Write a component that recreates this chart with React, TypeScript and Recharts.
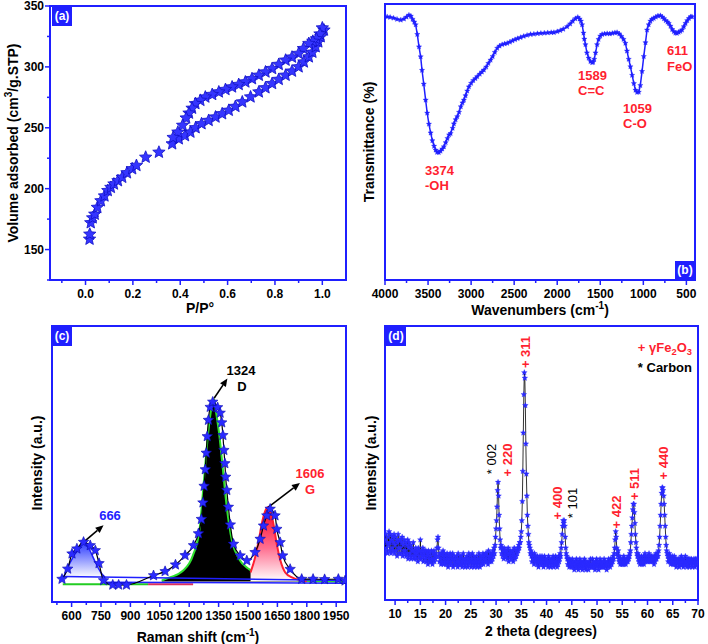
import React from "react";
import { ComposedChart, Line, Area, XAxis, YAxis, ReferenceArea, ReferenceLine } from "recharts";

const BLUE = "#1f1fff";
const RED = "#ff1f30";
const FONT = '"Liberation Sans", Arial, sans-serif';

// (a) N2 isotherm, [P/P0, volume]
const adsorption = [
  [0.017, 158.5], [0.018, 162.6], [0.022, 172], [0.03, 176], [0.039, 179], [0.05, 184.6], [0.065, 190],
  [0.08, 194], [0.094, 198.4], [0.107, 201], [0.12, 203.8], [0.137, 206.5], [0.155, 209.3], [0.175, 213],
  [0.197, 216.3], [0.215, 219], [0.254, 225.8], [0.31, 229.9], [0.366, 236.8], [0.394, 240.9], [0.42, 243.5],
  [0.443, 246.4], [0.465, 250], [0.49, 253.3], [0.52, 256], [0.549, 258.8], [0.577, 261.5], [0.605, 264.3],
  [0.633, 267.5], [0.662, 271.2], [0.697, 275.3], [0.732, 279.4], [0.76, 282.8], [0.788, 286.3], [0.816, 289.7],
  [0.845, 293.1], [0.872, 296.5], [0.9, 300], [0.922, 304], [0.943, 308.2], [0.958, 312], [0.972, 316.5],
  [0.983, 320.5], [0.993, 324.7], [1.007, 330.2],
];
const desorption = [
  [1.0, 332], [0.99, 327], [0.975, 323], [0.96, 321], [0.943, 319.2], [0.92, 315], [0.9, 311], [0.872, 308],
  [0.845, 305.5], [0.816, 302], [0.788, 298.6], [0.76, 295.8], [0.732, 293.1], [0.703, 290.3], [0.675, 287.6],
  [0.647, 285.5], [0.619, 283.5], [0.591, 281.4], [0.563, 279.4], [0.535, 277.3], [0.506, 275.2], [0.485, 272.5],
  [0.464, 269.8], [0.45, 266], [0.437, 262], [0.425, 258], [0.41, 252], [0.39, 246.4], [0.37, 242],
];
const betXTicks = [-0.1, 0, 0.1, 0.2, 0.3, 0.4, 0.5, 0.6, 0.7, 0.8, 0.9, 1.0];
const betXMajor = [0, 0.2, 0.4, 0.6, 0.8, 1.0];
const betYTicks = [125, 150, 175, 200, 225, 250, 275, 300, 325, 350];
const betYMajor = [150, 200, 250, 300, 350];

// (b) FTIR, [wavenumber, transmittance]
const ftir = [
  [3975, 95.4], [3940, 95.2], [3900, 94.9], [3860, 94.5], [3818, 94.2], [3780, 94.6], [3750, 95.3], [3722, 96],
  [3700, 95.6], [3680, 94.5], [3660, 93.5], [3644, 92.5], [3625, 89], [3605, 84.5], [3586, 80.9], [3570, 76],
  [3550, 71], [3528, 65.2], [3510, 60.5], [3490, 56.5], [3470, 53.3], [3450, 50.5], [3430, 48.5], [3412, 47.1],
  [3395, 46.3], [3375, 46.2], [3355, 46.7], [3335, 47.5], [3316, 48.3], [3295, 49.8], [3275, 51.3], [3255, 52.6],
  [3238, 53.1], [3215, 55], [3200, 56.6], [3180, 58.1], [3161, 59.2], [3140, 60.8], [3120, 62.8], [3100, 64.2],
  [3084, 65.2], [3065, 66.8], [3045, 68.5], [3026, 70], [3000, 71.3], [2975, 72.3], [2950, 73], [2929, 73.7],
  [2900, 74.6], [2875, 75.4], [2852, 76.1], [2825, 77.2], [2800, 78.5], [2774, 79.7], [2750, 81], [2725, 82.5],
  [2697, 84], [2670, 84.8], [2640, 85.3], [2610, 85.6], [2581, 85.8], [2550, 86.2], [2520, 86.7], [2490, 87.1],
  [2460, 87.5], [2426, 87.9], [2390, 88.3], [2350, 88.7], [2310, 89], [2271, 89.1], [2230, 89.3], [2190, 89.4],
  [2150, 89.5], [2110, 89.6], [2070, 89.7], [2039, 89.7], [2000, 90], [1965, 90.4], [1930, 90.9], [1885, 91.8],
  [1850, 92.8], [1820, 93.8], [1790, 94.7], [1761, 95.2], [1740, 94.6], [1725, 93.8], [1711, 92.5], [1695, 89.5],
  [1685, 87.3], [1672, 85.3], [1655, 82.3], [1635, 80.4], [1614, 79.2], [1595, 78.8], [1583, 78.9], [1570, 80],
  [1555, 82.3], [1537, 85.3], [1520, 87.2], [1500, 88.4], [1479, 89], [1450, 89.2], [1420, 89.3], [1390, 89.2],
  [1360, 89.4], [1330, 89.6], [1305, 89.7], [1280, 89.2], [1255, 88.3], [1230, 87.2], [1208, 85.8], [1190, 83],
  [1170, 80], [1150, 77.3], [1130, 74.2], [1110, 71.2], [1091, 68.8], [1072, 68], [1053, 68.1], [1035, 70.5],
  [1015, 75.6], [995, 81], [975, 86], [957, 90.6], [938, 92.5], [918, 93.8], [900, 94.5], [879, 94.8],
  [855, 95.3], [830, 95.7], [802, 95.8], [780, 95.3], [760, 94.7], [740, 94], [720, 93.5], [705, 93],
  [685, 92], [665, 90.8], [645, 90], [628, 89.5], [610, 89.4], [590, 89.8], [570, 90.1], [551, 90.6],
  [530, 91.8], [510, 93], [490, 94], [470, 94.8], [450, 95.4], [435, 95.4],
];
const ftirTicks = [4000, 3750, 3500, 3250, 3000, 2750, 2500, 2250, 2000, 1750, 1500, 1250, 1000, 750, 500];
const ftirMajor = [4000, 3500, 3000, 2500, 2000, 1500, 1000, 500];

// (c) Raman, measured points and fitted peaks
const raman = [
  [551, 8.3], [580, 12], [602, 17.5], [627, 19.3], [661, 21.7], [695, 20.5], [721, 18.7], [740, 14], [763, 7.8],
  [810, 6.2], [840, 6.2], [880, 6.2], [1018, 9.6], [1077, 11.1], [1130, 13.5], [1179, 16.9], [1222, 20.5],
  [1247, 24.8], [1262, 30], [1270, 36], [1276, 42], [1282, 48], [1287, 54], [1292, 60], [1298, 65.9],
  [1307, 70.6], [1320, 72.5], [1345, 70.5], [1358, 68.5], [1366, 65], [1372, 60.4], [1377, 55], [1382, 50.2],
  [1386, 45.3], [1392, 40.5], [1400, 34.4], [1410, 28], [1426, 21], [1460, 16.8], [1494, 15], [1536, 18],
  [1562, 22.8], [1579, 27.6], [1596, 31.3], [1613, 33.7], [1638, 31.3], [1647, 26.4], [1664, 21.6],
  [1677, 16.8], [1715, 11.9], [1774, 8.3], [1832, 8.3], [1891, 8.2], [1961, 8.3], [1995, 7.7],
];
const fit666 = [[559, 9], [580, 12.5], [604, 15.8], [638, 19.6], [661, 22.3], [688, 19.4], [722, 14.3], [750, 10.6], [772, 8.8]];
const fitD = [
  [1060, 7.8], [1101, 8.9], [1168, 11.3], [1219, 16.9], [1253, 26.4], [1269, 38.7], [1286, 53.2], [1303, 65.2],
  [1327, 73.4], [1337, 68.8], [1354, 60.3], [1370, 49.5], [1387, 37.3], [1404, 27.8], [1420, 21.6], [1455, 15.5],
  [1505, 11.9], [1589, 9.5], [1673, 8.3], [1758, 7.8], [1990, 7.4],
];
const fitG = [
  [1513, 10.7], [1539, 16.9], [1556, 22.8], [1572, 28.9], [1589, 33.2], [1604, 34.4], [1614, 33.2], [1631, 27.8],
  [1648, 20.5], [1665, 15.1], [1690, 10.7], [1724, 8.9], [1774, 7.8], [1800, 7.5],
];
const baseBlue1 = [[555, 9.2], [1300, 8.5], [2000, 7.8]];
const baseBlue2 = [[770, 7.2], [2000, 6.8]];
const baseGreen = [[555, 6.4], [990, 6.4]];
const baseRed = [[990, 6.4], [1220, 6.4]];
const ramanTicks = [525, 600, 675, 750, 825, 900, 975, 1050, 1125, 1200, 1275, 1350, 1425, 1500, 1575, 1650, 1725, 1800, 1875, 1950];
const ramanMajor = [600, 750, 900, 1050, 1200, 1350, 1500, 1650, 1800, 1950];

// (d) XRD counts, 8.0 to 70.0 deg in 0.1 deg steps
const xrdStart = 8;
const xrdStep = 0.1;
const xrdCounts = [
  22, 18, 24, 19, 21, 17, 23, 20, 25, 18,
  21, 24, 17, 22, 19, 23, 18, 21, 24, 17,
  20, 23, 18, 22, 16, 21, 24, 19, 17, 22,
  19, 22, 17, 21, 23, 16, 20, 18, 22, 17,
  18, 21, 16, 20, 17, 22, 15, 19, 21, 16,
  17, 20, 15, 19, 18, 16, 21, 15, 18, 17,
  16, 19, 15, 18, 17, 14, 19, 16, 18, 15,
  22, 17, 15, 18, 16, 19, 14, 17, 16, 18,
  15, 18, 14, 17, 16, 13, 18, 15, 17, 14,
  16, 14, 18, 15, 13, 17, 15, 18, 14, 16,
  15, 17, 16, 19, 22, 23, 19, 16, 14, 17,
  15, 13, 17, 14, 16, 18, 13, 15, 17, 14,
  16, 13, 15, 17, 14, 12, 16, 15, 13, 17,
  14, 16, 13, 15, 17, 12, 15, 14, 16, 13,
  15, 13, 16, 14, 12, 17, 14, 13, 15, 16,
  13, 16, 14, 12, 15, 17, 13, 15, 14, 12,
  15, 13, 16, 14, 12, 15, 17, 13, 14, 16,
  14, 12, 15, 17, 13, 14, 16, 12, 15, 14,
  13, 16, 14, 12, 15, 13, 17, 14, 12, 16,
  15, 13, 16, 14, 17, 13, 15, 16, 14, 17,
  15, 17, 14, 16, 13, 18, 15, 16, 14, 17,
  16, 14, 17, 15, 18, 16, 19, 17, 20, 23,
  26, 29, 34, 40, 43, 38, 31, 26, 22, 19,
  20, 17, 19, 16, 18, 15, 19, 17, 16, 18,
  16, 18, 15, 17, 19, 14, 17, 16, 18, 15,
  17, 15, 18, 16, 14, 17, 19, 16, 15, 18,
  16, 18, 17, 19, 18, 20, 19, 21, 21, 23,
  25, 29, 36, 47, 61, 75, 83, 81, 71, 57,
  46, 38, 31, 27, 24, 21, 20, 19, 17, 18,
  16, 14, 17, 15, 16, 13, 17, 15, 14, 16,
  15, 13, 16, 14, 12, 15, 14, 16, 13, 15,
  14, 16, 13, 15, 12, 14, 16, 13, 15, 14,
  13, 15, 14, 12, 16, 14, 13, 15, 12, 14,
  15, 13, 14, 16, 12, 15, 13, 14, 16, 13,
  14, 12, 15, 13, 16, 14, 15, 17, 16, 19,
  21, 24, 27, 29, 28, 29, 27, 23, 19, 17,
  16, 15, 13, 15, 14, 12, 15, 13, 14, 12,
  13, 15, 12, 14, 13, 11, 14, 13, 12, 15,
  12, 14, 13, 11, 14, 12, 15, 13, 12, 14,
  13, 11, 14, 12, 13, 15, 12, 14, 11, 13,
  14, 12, 13, 11, 14, 13, 12, 15, 13, 12,
  13, 15, 12, 14, 12, 13, 11, 14, 13, 15,
  12, 14, 13, 11, 14, 12, 15, 13, 12, 14,
  13, 12, 14, 12, 15, 13, 12, 14, 13, 11,
  14, 13, 12, 15, 13, 14, 12, 15, 14, 13,
  15, 14, 16, 15, 17, 19, 22, 25, 23, 19,
  17, 16, 18, 15, 14, 16, 13, 15, 14, 13,
  15, 13, 14, 16, 13, 15, 14, 13, 15, 14,
  15, 14, 16, 15, 16, 17, 18, 21, 24, 27,
  30, 33, 35, 35, 32, 28, 24, 21, 19, 17,
  16, 17, 15, 14, 16, 13, 15, 14, 16, 13,
  15, 14, 16, 13, 15, 17, 14, 16, 15, 14,
  16, 14, 15, 17, 14, 16, 15, 14, 16, 15,
  14, 16, 15, 13, 16, 14, 15, 17, 15, 16,
  17, 16, 18, 20, 23, 27, 31, 35, 39, 41,
  41, 40, 38, 35, 31, 27, 23, 20, 18, 17,
  16, 14, 15, 17, 14, 16, 13, 15, 14, 16,
  15, 13, 14, 16, 13, 15, 14, 12, 15, 14,
  13, 15, 14, 12, 15, 13, 14, 16, 13, 15,
  14, 12, 15, 13, 14, 16, 13, 14, 12, 15,
  13, 15, 14, 12, 15, 14, 13, 15, 14, 12,
  14, 13, 15, 14, 12, 15, 13, 14, 15, 13,
  14,
];
const xrdTicks = [10, 12.5, 15, 17.5, 20, 22.5, 25, 27.5, 30, 32.5, 35, 37.5, 40, 42.5, 45, 47.5, 50, 52.5, 55, 57.5, 60, 62.5, 65, 67.5, 70];
const xrdMajor = [10, 15, 20, 25, 30, 35, 40, 45, 50, 55, 60, 65, 70];

const pts = (arr: number[][]) => arr.map(([x, y]) => ({ x, y }));
const xrdData = xrdCounts.map((y, i) => ({ x: xrdStart + i * xrdStep, y }));

const starPts = (cx: number, cy: number, r: number) => {
  const p: string[] = [];
  for (let i = 0; i < 10; i++) {
    const rr = i % 2 === 0 ? r : r * 0.45;
    const a = -Math.PI / 2 + (i * Math.PI) / 5;
    p.push(`${cx + rr * Math.cos(a)},${cy + rr * Math.sin(a)}`);
  }
  return p.join(" ");
};

const starDot = (r: number, fill: string, stroke: string, sw = 0.8) => (p: any) => {
  if (p.cx == null || p.cy == null) return <g key={p.index} />;
  return <polygon key={p.index} points={starPts(p.cx, p.cy, r)} fill={fill} stroke={stroke} strokeWidth={sw} />;
};

const xTick = (majors: number[], fmt: (v: number) => string) => (props: any) => {
  const { x, y, payload } = props;
  const major = majors.includes(payload.value);
  return (
    <g>
      <line x1={x} x2={x} y1={y} y2={y + (major ? 5 : 3)} stroke={BLUE} strokeWidth={1.5} />
      {major && (
        <text x={x} y={y + 18} textAnchor="middle" fontFamily={FONT} fontWeight="bold" fontSize={12} fill="#000">
          {fmt(payload.value)}
        </text>
      )}
    </g>
  );
};

const yTick = (majors: number[]) => (props: any) => {
  const { x, y, payload } = props;
  const major = majors.includes(payload.value);
  return (
    <g>
      <line x1={x} x2={x - (major ? 5 : 3)} y1={y} y2={y} stroke={BLUE} strokeWidth={1.5} />
      {major && (
        <text x={x - 6} y={y + 4} textAnchor="end" fontFamily={FONT} fontWeight="bold" fontSize={12} fill="#000">
          {payload.value}
        </text>
      )}
    </g>
  );
};

const arrowShape = (p: any) => {
  const { x1, y1, x2, y2 } = p;
  const a = Math.atan2(y2 - y1, x2 - x1);
  const L = 8;
  const W = 3.5;
  const bx = x2 - L * Math.cos(a);
  const by = y2 - L * Math.sin(a);
  const head = `${x2},${y2} ${bx + W * Math.sin(a)},${by - W * Math.cos(a)} ${bx - W * Math.sin(a)},${by + W * Math.cos(a)}`;
  return (
    <g>
      <line x1={x1} y1={y1} x2={bx} y2={by} stroke="#000" strokeWidth={1.6} />
      <polygon points={head} fill="#000" />
    </g>
  );
};

function Txt(props: { x: number; y: number; children: React.ReactNode; color?: string; size?: number; anchor?: string; rotate?: boolean; weight?: string }) {
  const { x, y, children, color = "#000", size = 13, anchor = "middle", rotate = false, weight = "bold" } = props;
  const tx = anchor === "middle" ? "-50%" : anchor === "end" ? "-100%" : "0";
  return (
    <div
      style={{
        position: "absolute",
        left: x,
        top: y,
        transform: `translate(${tx}, -50%)${rotate ? " rotate(-90deg)" : ""}`,
        fontFamily: FONT,
        fontWeight: weight as any,
        fontSize: size,
        color,
        whiteSpace: "nowrap",
        lineHeight: 1,
      }}
    >
      {children}
    </div>
  );
}

const Tag = ({ x, y, t }: { x: number; y: number; t: string }) => (
  <div
    style={{
      position: "absolute", left: x, top: y, width: 20, height: 19, background: BLUE, color: "#fff",
      fontFamily: FONT, fontWeight: "bold", fontSize: 12, lineHeight: "19px", textAlign: "center",
    }}
  >
    {t}
  </div>
);

const sup = (s: string) => <sup style={{ fontSize: "0.72em", lineHeight: 0 }}>{s}</sup>;
const sub = (s: string) => <sub style={{ fontSize: "0.72em", lineHeight: 0 }}>{s}</sub>;

const frame = (x1: number, x2: number, y1: number, y2: number) => (
  <ReferenceArea x1={x1} x2={x2} y1={y1} y2={y2} fill="none" fillOpacity={0} stroke={BLUE} strokeWidth={2} ifOverflow="visible" />
);

function PanelA() {
  return (
    <ComposedChart width={354} height={322} margin={{ top: 6, right: 8, bottom: 0, left: 0 }}>
      <XAxis type="number" dataKey="x" domain={[-0.15, 1.1]} allowDataOverflow ticks={betXTicks} interval={0}
        tick={xTick(betXMajor, (v) => v.toFixed(1))} tickLine={false} tickSize={0} tickMargin={0} axisLine={false} height={42} />
      <YAxis type="number" domain={[125, 350]} allowDataOverflow ticks={betYTicks} interval={0}
        tick={yTick(betYMajor)} tickLine={false} tickSize={0} tickMargin={0} axisLine={false} width={50} />
      <Line data={pts(adsorption)} dataKey="y" stroke="none" dot={starDot(6.5, "#3535ff", "#1010c8")} activeDot={false} isAnimationActive={false} />
      <Line data={pts(desorption)} dataKey="y" stroke="none" dot={starDot(6.5, "#3535ff", "#1010c8")} activeDot={false} isAnimationActive={false} />
      {frame(-0.15, 1.1, 125, 350)}
    </ComposedChart>
  );
}

function PanelB() {
  return (
    <ComposedChart width={354} height={322} margin={{ top: 4, right: 13, bottom: 0, left: 31 }}>
      <XAxis type="number" dataKey="x" domain={[400, 4000]} reversed allowDataOverflow ticks={ftirTicks} interval={0}
        tick={xTick(ftirMajor, (v) => String(v))} tickLine={false} tickSize={0} tickMargin={0} axisLine={false} height={42} />
      <YAxis type="number" domain={[0, 100]} allowDataOverflow hide />
      <Line data={pts(ftir)} dataKey="y" stroke={BLUE} strokeWidth={1.5} dot={starDot(2.8, BLUE, BLUE, 0.3)} activeDot={false} isAnimationActive={false} />
      {frame(400, 4000, 0, 100)}
    </ComposedChart>
  );
}

function PanelC() {
  return (
    <ComposedChart width={354} height={322} margin={{ top: 4, right: 8, bottom: 0, left: 52 }}>
      <defs>
        <linearGradient id="g666" x1="0" y1="0" x2="0" y2="1">
          <stop offset="0%" stopColor="#1f2fff" />
          <stop offset="100%" stopColor="#ffffff" />
        </linearGradient>
        <linearGradient id="gG" x1="0" y1="0" x2="0" y2="1">
          <stop offset="0%" stopColor="#ff0020" />
          <stop offset="55%" stopColor="#ff6f90" />
          <stop offset="100%" stopColor="#ffffff" />
        </linearGradient>
      </defs>
      <XAxis type="number" dataKey="x" domain={[500, 2000]} allowDataOverflow ticks={ramanTicks} interval={0}
        tick={xTick(ramanMajor, (v) => String(v))} tickLine={false} tickSize={0} tickMargin={0} axisLine={false} height={42} />
      <YAxis type="number" domain={[0, 100]} allowDataOverflow hide />
      <Line data={pts(baseGreen)} dataKey="y" stroke="#22cc22" strokeWidth={2} dot={false} activeDot={false} isAnimationActive={false} />
      <Line data={pts(baseRed)} dataKey="y" stroke="#e0305a" strokeWidth={2} dot={false} activeDot={false} isAnimationActive={false} />
      <Line data={pts(baseBlue2)} dataKey="y" stroke={BLUE} strokeWidth={1.5} dot={false} activeDot={false} isAnimationActive={false} />
      <Line data={pts(baseBlue1)} dataKey="y" stroke={BLUE} strokeWidth={1.5} dot={false} activeDot={false} isAnimationActive={false} />
      <Area data={pts(fit666)} dataKey="y" type="monotone" baseValue={8.8} stroke={BLUE} strokeWidth={1.5} fill="url(#g666)" fillOpacity={1} dot={false} activeDot={false} isAnimationActive={false} />
      <Area data={pts(fitD)} dataKey="y" type="monotone" baseValue={7.4} stroke="#2ee02e" strokeWidth={2} fill="#000" fillOpacity={1} dot={false} activeDot={false} isAnimationActive={false} />
      <Area data={pts(fitG)} dataKey="y" type="monotone" baseValue={7.5} stroke={RED} strokeWidth={2} fill="url(#gG)" fillOpacity={1} dot={false} activeDot={false} isAnimationActive={false} />
      <Line data={pts(raman)} dataKey="y" type="monotone" stroke="#000" strokeWidth={1.2} dot={starDot(5.5, "#2a2aff", "#0a0ab0", 0.6)} activeDot={false} isAnimationActive={false} />
      <ReferenceLine segment={[{ x: 661, y: 21.7 }, { x: 763, y: 27.8 }]} shape={arrowShape} />
      <ReferenceLine segment={[{ x: 1327, y: 73.8 }, { x: 1395, y: 81 }]} shape={arrowShape} />
      <ReferenceLine segment={[{ x: 1604, y: 34.4 }, { x: 1765, y: 43.1 }]} shape={arrowShape} />
      {frame(500, 2000, 0, 100)}
    </ComposedChart>
  );
}

function PanelD() {
  return (
    <ComposedChart width={354} height={322} margin={{ top: 4, right: 10, bottom: 0, left: 31 }}>
      <XAxis type="number" dataKey="x" domain={[8, 70]} allowDataOverflow ticks={xrdTicks} interval={0}
        tick={xTick(xrdMajor, (v) => String(v))} tickLine={false} tickSize={0} tickMargin={0} axisLine={false} height={44} />
      <YAxis type="number" domain={[0, 100]} allowDataOverflow hide />
      <Line data={xrdData} dataKey="y" stroke="#000" strokeWidth={0.8} dot={starDot(3, "#2a2aff", "#2a2aff", 0.3)} activeDot={false} isAnimationActive={false} />
      {frame(8, 70, 0, 100)}
    </ComposedChart>
  );
}

export default function App() {
  return (
    <div style={{ position: "absolute", left: 0, top: 0, width: 708, height: 644, background: "#fff", overflow: "hidden" }}>
      <div style={{ position: "absolute", left: 0, top: 0 }}><PanelA /></div>
      <div style={{ position: "absolute", left: 354, top: 0 }}><PanelB /></div>
      <div style={{ position: "absolute", left: 0, top: 322 }}><PanelC /></div>
      <div style={{ position: "absolute", left: 354, top: 322 }}><PanelD /></div>

      <Tag x={52} y={7} t="(a)" />
      <Tag x={675} y={261} t="(b)" />
      <Tag x={52} y={327} t="(c)" />
      <Tag x={386} y={327} t="(d)" />

      {/* axis titles */}
      <Txt x={200} y={308} size={14}>P/P°</Txt>
      <Txt x={13} y={143} size={14} rotate>Volume adsorbed (cm{sup("3")}/g.STP)</Txt>
      <Txt x={540} y={310} size={14}>Wavenumbers (cm{sup("-1")})</Txt>
      <Txt x={369} y={142} size={14} rotate>Transmittance (%)</Txt>
      <Txt x={198} y={637} size={14}>Raman shift (cm{sup("-1")})</Txt>
      <Txt x={37} y={463} size={14} rotate>Intensity (a.u.)</Txt>
      <Txt x={541} y={631} size={14}>2 theta (degrees)</Txt>
      <Txt x={371} y={463} size={14} rotate>Intensity (a.u.)</Txt>

      {/* FTIR bands */}
      <Txt x={425} y={170} color={RED} anchor="start">3374</Txt>
      <Txt x={425} y={185} color={RED} anchor="start">-OH</Txt>
      <Txt x={578} y={75} color={RED} anchor="start">1589</Txt>
      <Txt x={578} y={90} color={RED} anchor="start">C=C</Txt>
      <Txt x={623} y={108} color={RED} anchor="start">1059</Txt>
      <Txt x={623} y={123} color={RED} anchor="start">C-O</Txt>
      <Txt x={667} y={50} color={RED} anchor="start">611</Txt>
      <Txt x={667} y={66} color={RED} anchor="start">FeO</Txt>

      {/* Raman bands */}
      <Txt x={110} y={515} color={BLUE}>666</Txt>
      <Txt x={241} y={370}>1324</Txt>
      <Txt x={242} y={386}>D</Txt>
      <Txt x={310} y={473} color={RED}>1606</Txt>
      <Txt x={310} y={489} color={RED}>G</Txt>

      {/* XRD reflections */}
      <Txt x={525} y={352} color={RED} rotate>+ 311</Txt>
      <Txt x={491} y={459} rotate weight="normal">* 002</Txt>
      <Txt x={507} y={460} color={RED} rotate>+ 220</Txt>
      <Txt x={557} y={503} color={RED} rotate>+ 400</Txt>
      <Txt x={572} y={503} rotate weight="normal">* 101</Txt>
      <Txt x={616} y={512} color={RED} rotate>+ 422</Txt>
      <Txt x={634} y={484} color={RED} rotate>+ 511</Txt>
      <Txt x={663} y={463} color={RED} rotate>+ 440</Txt>
      <Txt x={692} y={347} color={RED} anchor="end">+ γFe{sub("2")}O{sub("3")}</Txt>
      <Txt x={692} y={367} anchor="end">* Carbon</Txt>
    </div>
  );
}
